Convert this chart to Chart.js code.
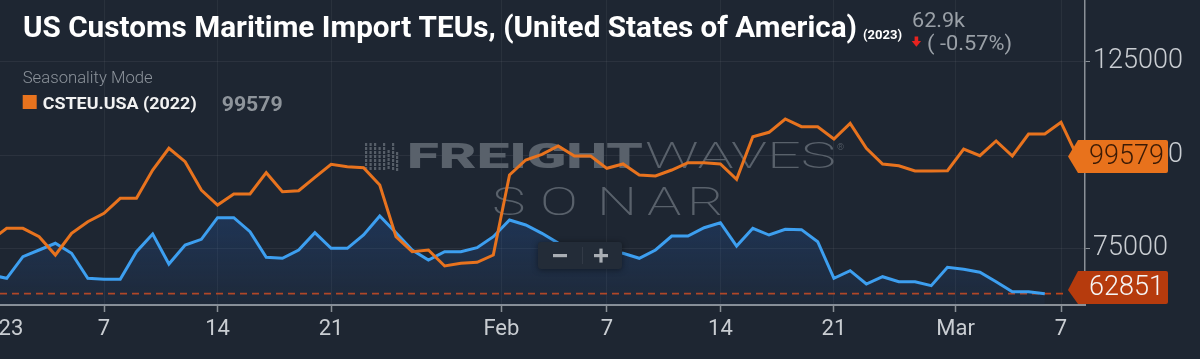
<!DOCTYPE html>
<html><head><meta charset="utf-8">
<script src="https://cdn.jsdelivr.net/npm/chart.js@4.4.0/dist/chart.umd.min.js"></script>
<style>
html,body{margin:0;padding:0;background:#1e2632;overflow:hidden;}
#wrap{position:relative;width:1200px;height:359px;}
canvas{display:block;}
</style></head><body>
<div id="wrap"><canvas id="c" width="1200" height="359"></canvas></div>
<script>
// Day offsets from Jan 1 (0 = Jan 1), -1 = Dec 31
const days = [-1,0,1,2,3,4,5,6,7,8,9,10,11,12,13,14,15,16,17,18,19,20,21,22,23,24,25,26,27,28,29,30,31,32,33,34,35,36,37,38,39,40,41,42,43,44,45,46,47,48,49,50,51,52,53,54,55,56,57,58,59,60,61,62,63,64,65,66];

// CSTEU.USA 2023 (blue)
const teu2023 = [67900,66960,72750,74545,76340,73660,66960,66690,66690,74100,78830,70790,75880,77400,83200,83200,79450,72590,72320,74545,79180,75000,75000,78560,83650,79180,74545,71860,74100,74100,75180,78110,82580,81240,79020,76400,75200,74500,74000,73660,72320,74545,78290,78290,80520,81860,75620,80360,78560,80090,80000,76770,66960,69000,65430,67390,66050,66050,64980,69910,69370,68570,66050,63370,63370,62851];

// CSTEU.USA 2022 (orange)
const teu2022 = [77100,80360,80360,78110,73200,79020,82130,84380,88400,88400,95980,101800,98200,90620,86600,89550,89550,95260,90170,90440,94020,97510,96870,96600,91960,78110,74100,74545,70260,70980,71250,73200,94640,98660,100190,102410,99730,99730,96430,97590,94640,94370,95980,97940,97940,97590,93500,104900,106080,109650,107580,107580,104290,108490,101800,97590,97130,95710,95710,95800,101610,99810,103750,99730,105630,105630,108760,99579];

const xTickValues = [-0.5, 6, 13, 20, 30.5, 37, 44, 51, 58.5, 65];
const xTickLabels = ['2023','7','14','21','Feb','7','14','21','Mar','7'];
const yTickValues = [75000, 100000, 125000];

const last2023 = 62851;
const last2022 = 99579;
const titleText = 'US Customs Maritime Import TEUs, (United States of America)';
const titleYear = '(2023)';
const statValue = '62.9k';
const statChange = '( -0.57%)';
const modeText = 'Seasonality Mode';
const legendText = 'CSTEU.USA (2022)';

const ORANGE = '#e8731e';
const BLUE = '#3d9ff0';
const AXIS = '#8a9097';

function drawFit(ctx, text, x, y, font, color, width) {
  ctx.save();
  ctx.font = font; ctx.fillStyle = color; ctx.textBaseline = 'alphabetic'; ctx.textAlign = 'left';
  const w = ctx.measureText(text).width;
  const s = width ? width / w : 1;
  ctx.translate(x, y); ctx.scale(s, 1); ctx.fillText(text, 0, 0);
  ctx.restore();
}

const backPlugin = {
  id: 'back',
  beforeDatasetsDraw(chart) {
    const ctx = chart.ctx, ca = chart.chartArea;
    const ys = chart.scales.y;
    ctx.save();
    // watermark icon
    ctx.fillStyle = '#565e68';
    const bars = [[365,143,170],[369.5,143,170],[374,143,170],[378.5,147,170],[383,143,170],[387.5,150,170],[392,143,170],[396,152,170]];
    bars.forEach(b => { for (let yy = b[1]; yy < b[2]; yy += 4) ctx.fillRect(b[0], yy, 2.2, 3); });
    drawFit(ctx, 'FREIGHT', 407, 168, '900 35px Roboto', '#59616b', 236);
    drawFit(ctx, 'WAVES', 645, 168, '200 36px Roboto', '#59616b', 191);
    drawFit(ctx, '®', 837, 150, '300 9px Roboto', '#59616b');
    ctx.font = '200 39px Roboto';
    ctx.fillStyle = '#59616b';
    const letters = ['S','O','N','A','R'];
    const lx = [492, 540, 597, 647, 687];
    letters.forEach((l, i) => { ctx.save(); ctx.translate(lx[i], 215); ctx.scale(1.45, 1); ctx.fillText(l, 0, 0); ctx.restore(); });
    // dashed last value line
    const yv = ys.getPixelForValue(last2023);
    ctx.strokeStyle = '#bd451b'; ctx.lineWidth = 1.6; ctx.setLineDash([7, 5]);
    ctx.beginPath(); ctx.moveTo(ca.left, yv); ctx.lineTo(1068, yv); ctx.stroke();
    ctx.restore();
  }
};

function valueBox(ctx, tipY, cy, fill, color, text) {
  const tipX = 1068, left = 1078, right = 1168, h = 33, r = 2;
  const top = cy - h / 2, bot = cy + h / 2;
  ctx.save();
  ctx.fillStyle = fill;
  ctx.beginPath();
  ctx.moveTo(tipX, tipY);
  ctx.lineTo(left, top);
  ctx.lineTo(right - r, top);
  ctx.arcTo(right, top, right, top + r, r);
  ctx.lineTo(right, bot - r);
  ctx.arcTo(right, bot, right - r, bot, r);
  ctx.lineTo(left, bot);
  ctx.closePath();
  ctx.fill();
  ctx.font = '300 27px Roboto'; ctx.fillStyle = color; ctx.textBaseline = 'middle'; ctx.textAlign = 'left';
  ctx.fillText(text, 1089, cy + 1);
  ctx.restore();
}

const frontPlugin = {
  id: 'front',
  afterDraw(chart) {
    const ctx = chart.ctx, ys = chart.scales.y;
    ctx.save();
    drawFit(ctx, titleText, 23, 36.7, 'bold 29px Roboto', '#ffffff', 834);
    drawFit(ctx, titleYear, 863, 38.5, 'bold 13px Roboto', '#ffffff', 39);
    drawFit(ctx, statValue, 912, 26.7, '400 20px Roboto', '#9aa0a7', 53);
    drawFit(ctx, statChange, 927, 49.5, '400 20px Roboto', '#9aa0a7', 85);
    ctx.fillStyle = '#e8231f';
    ctx.fillRect(914.6, 36.5, 3.6, 5);
    ctx.beginPath(); ctx.moveTo(911.7, 41); ctx.lineTo(921.1, 41); ctx.lineTo(916.4, 46.8); ctx.closePath(); ctx.fill();
    drawFit(ctx, modeText, 22.7, 83, '300 17px Roboto', '#8c939b', 130);
    ctx.fillStyle = ORANGE; ctx.fillRect(22.7, 95, 14, 14);
    drawFit(ctx, legendText, 42.7, 108.5, 'bold 16.5px Roboto', '#f2f2f2', 154);
    drawFit(ctx, String(last2022), 221.7, 111, 'bold 20px Roboto', '#8e949b', 61);
    const yO = ys.getPixelForValue(last2022);
    valueBox(ctx, yO, yO, '#e8721c', '#3a1a06', String(last2022));
    const yB = ys.getPixelForValue(last2023);
    const cyB = Math.min(yB, 305 - 17.5);
    valueBox(ctx, cyB + 2.5, cyB, '#b63b0d', '#f5f5f5', String(last2023));
    ctx.save();
    ctx.shadowColor = 'rgba(0,0,0,0.45)'; ctx.shadowBlur = 6; ctx.shadowOffsetY = 1;
    ctx.fillStyle = '#232c38';
    ctx.beginPath();
    if (ctx.roundRect) ctx.roundRect(538, 242, 84, 27, 3); else ctx.rect(538, 242, 84, 27);
    ctx.fill();
    ctx.restore();
    ctx.fillStyle = 'rgba(255,255,255,0.07)'; ctx.fillRect(582, 247, 1, 17);
    ctx.fillStyle = '#a9aeb4';
    ctx.fillRect(553, 254, 14, 3.2);
    ctx.fillRect(594, 254, 14, 3.2);
    ctx.fillRect(599.4, 248.6, 3.2, 14);
    ctx.restore();
  }
};

const pts = (arr) => arr.map((v, i) => ({ x: days[i], y: v }));

function blueFill(context) {
  const chart = context.chart; const ca = chart.chartArea;
  if (!ca) return 'rgba(33,88,170,0.2)';
  const g = chart.ctx.createLinearGradient(0, 200, 0, ca.bottom);
  g.addColorStop(0, 'rgba(35,92,175,0.32)');
  g.addColorStop(1, 'rgba(35,92,175,0.06)');
  return g;
}

const xLabelMap = {};
xTickValues.forEach((v, i) => { xLabelMap[v] = xTickLabels[i]; });

new Chart(document.getElementById('c'), {
  type: 'line',
  data: {
    datasets: [
      { label: 'CSTEU.USA (2022)', data: pts(teu2022), borderColor: ORANGE, borderWidth: 3, pointRadius: 0, fill: false, tension: 0, order: 1 },
      { label: 'CSTEU.USA (2023)', data: pts(teu2023), borderColor: BLUE, borderWidth: 3, pointRadius: 0, fill: 'start', backgroundColor: blueFill, tension: 0, order: 2 }
    ]
  },
  options: {
    responsive: false,
    animation: false,
    events: [],
    layout: { padding: 0 },
    plugins: { legend: { display: false }, title: { display: false }, tooltip: { enabled: false } },
    scales: {
      x: {
        type: 'linear',
        min: -6.7 / 16.22,
        max: (1085 - 6.7) / 16.22,
        afterBuildTicks: (s) => { s.ticks = xTickValues.map(v => ({ value: v })); },
        afterFit: (s) => { s.height = 54; s.paddingLeft = 0; s.paddingRight = 0; },
        grid: { color: 'rgba(255,255,255,0.05)', lineWidth: 1, drawTicks: true, tickLength: 7, tickColor: AXIS, tickWidth: 1.5 },
        border: { display: true, color: AXIS, width: 2 },
        ticks: {
          autoSkip: false, maxRotation: 0, minRotation: 0, padding: 4,
          color: '#c9cdd2', font: { family: 'Roboto', size: 22, weight: '400' },
          callback: (v) => xLabelMap[v] !== undefined ? xLabelMap[v] : ''
        }
      },
      y: {
        position: 'right',
        min: 59807,
        max: 141533,
        afterBuildTicks: (s) => { s.ticks = yTickValues.map(v => ({ value: v })); },
        afterFit: (s) => { s.width = 115; s.paddingTop = 0; s.paddingBottom = 0; },
        grid: { color: 'rgba(255,255,255,0.06)', lineWidth: 1, drawTicks: true, tickLength: 5, tickColor: AXIS },
        border: { display: true, color: AXIS, width: 1.5 },
        ticks: {
          padding: 3, color: '#c9cdd2', font: { family: 'Roboto', size: 27, weight: '300' },
          callback: (v) => String(v)
        }
      }
    }
  },
  plugins: [backPlugin, frontPlugin]
});
</script>
</body></html>
